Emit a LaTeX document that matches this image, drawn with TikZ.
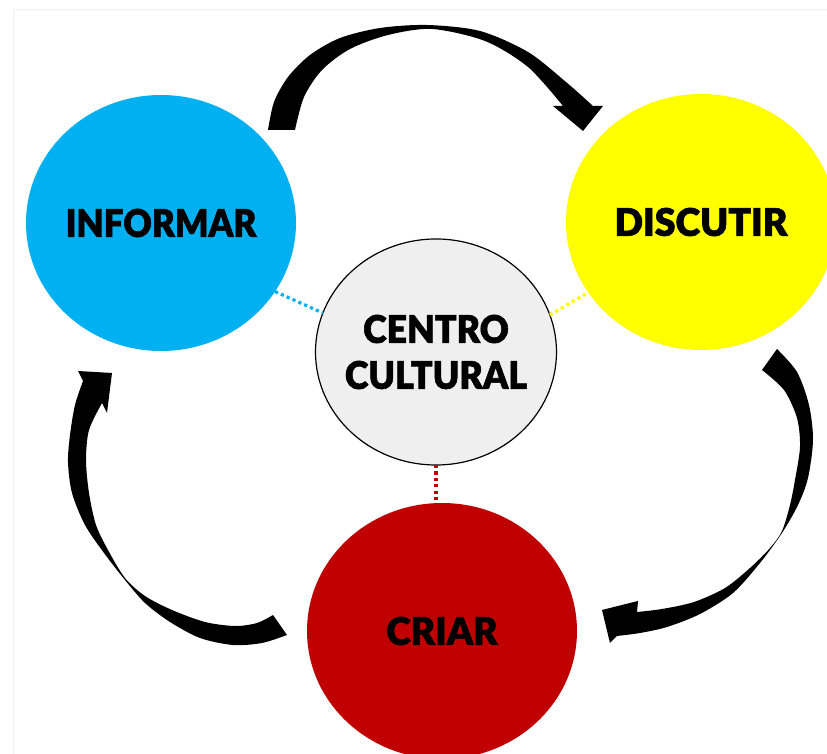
\documentclass[tikz,border=0pt]{standalone}
\usepackage{fontspec}
\newfontfamily\lblfont{Lato Black}[FakeBold=1.6]
\usepackage{tikz}
\usetikzlibrary{shapes.geometric}

\definecolor{infblue}{HTML}{00B0F0}
\definecolor{disyellow}{HTML}{FFFF00}
\definecolor{crired}{HTML}{C00000}
\definecolor{cengray}{HTML}{EFEFEF}

\begin{document}
\begin{tikzpicture}[x=0.5pt, y=-0.5pt,
    bubble/.style={ellipse, inner sep=0pt, outer sep=0pt, minimum width=135pt, minimum height=128pt},
    bubbletext/.style={font=\lblfont\fontsize{19}{23}\selectfont, align=center, inner sep=0pt, xscale=0.95},
    link/.style={line width=1.6pt, dash pattern=on 1.6pt off 1.6pt},
    swoosh/.style={fill=black}]
    \useasboundingbox (0,0) rectangle (827,754);
    \clip (0,0) rectangle (827,754);
    \draw[black!6] (13,754) |- (827,9);

    % the four circles
    \node[bubble, fill=infblue] (inf) at (161,223) {};
    \node[bubble, fill=disyellow] (dis) at (701,222) {};
    \node[bubble, fill=crired] (cri) at (442,631) {};
    \node[bubble, fill=cengray, draw=black, line width=0.6pt, minimum width=120.5pt, minimum height=113pt] (cen) at (436,352) {};

    \node[bubbletext, xscale=0.97] (inftxt) at (inf) {INFORMAR};
    \node[bubbletext, xscale=1.04] (distxt) at (dis) {DISCUTIR};
    \node[bubbletext, xscale=1.03] (critxt) at (cri) {CRIAR};
    \node[bubbletext, xscale=0.99] (centxt) at (cen) {CENTRO\\CULTURAL};

    % dotted links to the centre
    \draw[link, infblue] (inf.-31) -- (cen.161);
    \draw[link, disyellow] (cen.18) -- (dis.-148);
    \draw[link, crired] (cen.south) -- (cen.south |- cri.north);

    % curved arrows
    \fill[swoosh] plot[smooth] coordinates {(268,130) (274,102) (288,77) (310,55) (340,38) (380,28) (427,25) (480,31) (528,52) (566,82) (593,106)}
        -- (603,106) -- (583,131) -- (553,106) -- (563,106)
        -- plot[smooth] coordinates {(563,106) (528,67) (485,41) (432,29) (388,35) (350,49) (322,70) (304,97) (295,130)} -- cycle;
    \fill[swoosh] plot[smooth] coordinates {(777,349) (797,372) (809,405) (813,440) (808,478) (798,505) (782,533) (760,563) (733,593) (700,614) (667,627) (640,633) (617,636)}
        -- (610,643) -- (602,610) -- (638,601) -- (637,612)
        -- plot[smooth] coordinates {(637,612) (662,609) (694,602) (725,588) (750,568) (770,548) (782,531) (790,505) (795,480) (800,447) (797,418) (784,390) (762,370)} -- cycle;
    \fill[swoosh] plot[smooth] coordinates {(287,635) (262,643) (233,645) (200,638) (170,622) (145,603) (125,580) (104,553) (85,525) (72,493) (68,462) (70,435) (75,405) (83,381)}
        -- (78,371) -- (112,373) -- (107,413) -- (102,403)
        -- plot[smooth] coordinates {(102,403) (89,430) (86,460) (89,493) (96,525) (108,550) (125,578) (145,596) (172,610) (205,622) (235,626) (257,623) (273,615)} -- cycle;
\end{tikzpicture}
\end{document}
